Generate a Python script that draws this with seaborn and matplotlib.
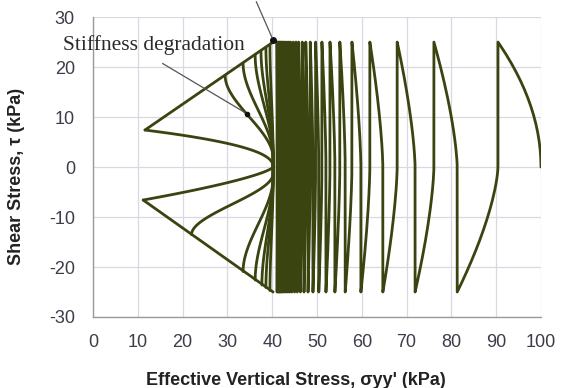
import numpy as np
import pandas as pd
import matplotlib
matplotlib.use("Agg")
import matplotlib.pyplot as plt
import seaborn as sns

# stress path peaks (sigma_yy' in kPa), alternating +25 / -25 kPa shear
peak_sigma = [100, 90.4, 81.3, 76.1, 71.9, 67.9, 64.7, 61.8, 59.8, 57.8, 56.3,
              55.1, 54.0, 52.9, 52.0, 51.1, 50.4, 49.7, 49.1, 48.5, 48.0, 47.5,
              47.1, 46.7, 46.3, 45.9, 45.6, 45.3, 45.0, 44.7, 44.4, 44.1, 43.9,
              43.7, 43.5, 43.3, 43.1, 42.9, 42.7, 42.6, 42.4, 42.3, 42.1, 42.0,
              41.9, 41.8, 41.7, 41.6, 41.5, 41.4, 41.3, 41.2, 41.1, 41.0]
peak_tau = [0] + [25 if i % 2 == 0 else -25 for i in range(len(peak_sigma) - 1)]

# butterfly loops: where each branch meets the failure envelope
hub_sigma = 40.2
upper_sigma = [11.6, 29.5, 33.5, 36.2, 37.5, 38.6, 39.5]
upper_tau = [7.4, 18.3, 20.8, 22.4, 23.2, 23.9, 24.4]
lower_sigma = [11.2, 22.0, 33.5, 36.2, 37.7, 38.6, 39.5]
lower_tau = [-6.6, -13.5, -20.9, -22.6, -23.6, -24.1, -24.7]
env_top = [(11.6, 7.4), (40.2, 25.0)]
env_bot = [(11.2, -6.6), (40.2, -25.0)]

line_col = "#394410"

rows = []
# initial loading
for u in np.linspace(0, 1, 30):
    rows.append((0, peak_sigma[0] - (peak_sigma[0] - peak_sigma[1]) * u ** 2, 25 * u))
# cyclic half cycles: near-vertical unloading, then curved reloading
for i in range(1, len(peak_sigma) - 1):
    xa, xb = peak_sigma[i], peak_sigma[i + 1]
    s = np.sign(peak_tau[i])
    for tau in np.linspace(peak_tau[i], peak_tau[i + 1], 50):
        if np.sign(tau) == s:
            x = xa
        else:
            x = xa - (xa - xb) * (abs(tau) / 25) ** 1.5
        rows.append((0, x, tau))

seg = 1
for xs, ts in [(upper_sigma, upper_tau), (lower_sigma, lower_tau)]:
    for k, (xe, te) in enumerate(zip(xs, ts)):
        for v in np.linspace(1, 0, 50):
            if k == 0:
                h = v ** (2.3 if te > 0 else 1.4)
            else:
                w = np.clip((v - 0.1) / 0.9, 0, 1)
                h = 3 * w ** 2 - 2 * w ** 3
            rows.append((seg, hub_sigma - (hub_sigma - xe) * h, te * v))
        seg += 1
for env in (env_top, env_bot):
    for x, y in env:
        rows.append((seg, x, y))
    seg += 1

df = pd.DataFrame(rows, columns=["seg", "sigma", "tau"])

sns.set_theme(style="whitegrid")
plt.rcParams["font.family"] = ["Liberation Sans Narrow", "Liberation Sans", "DejaVu Sans"]
plt.rcParams["axes.unicode_minus"] = False

fig = plt.figure(figsize=(5.66, 3.88), dpi=100)
ax = fig.add_axes([0.1643, 0.183, 0.7915, 0.773])
ax.set_facecolor("white")

sns.lineplot(data=df, x="sigma", y="tau", units="seg", estimator=None, sort=False,
             color=line_col, lw=2.0, ax=ax, legend=False)

ax.set_xlim(0, 100)
ax.set_ylim(-30, 30)
ax.set_xticks(range(0, 101, 10))
ax.set_yticks(range(-30, 31, 10))
ax.grid(True, color="#d8d8e4", lw=0.9)
for side in ["top", "right"]:
    ax.spines[side].set_visible(False)
for side in ["left", "bottom"]:
    ax.spines[side].set_color("#9a9a9a")
    ax.spines[side].set_linewidth(1.0)
ax.tick_params(axis="y", length=8, color="#9a9a9a", pad=5, labelsize=13, labelcolor="#3c3c4a")
ax.tick_params(axis="x", length=0, pad=12, labelsize=13, labelcolor="#3c3c4a")

ax.set_xlabel("Effective Vertical Stress, σyy' (kPa)", fontsize=13, fontweight="bold",
              color="#222222")
ax.set_ylabel("Shear Stress, τ (kPa)", fontsize=13, fontweight="bold", color="#222222",
              family=["Liberation Sans", "DejaVu Sans"])
ax.xaxis.set_label_coords(0.453, -0.183)
ax.yaxis.set_label_coords(-0.152, 0.467)

# annotations
ax.text(13.6, 24.4, "Stiffness degradation", ha="center", va="center", fontsize=15.5,
        family=["Liberation Serif", "DejaVu Serif"], color="#2a2a2a")
ax.annotate("", xy=(34.3, 10.7), xytext=(15.0, 21.0),
            arrowprops=dict(arrowstyle="-", color="#555555", lw=0.9))
ax.plot([34.3], [10.7], "o", color="#111111", ms=3)
ax.annotate("", xy=(40.2, 25.4), xytext=(36.2, 33.6), annotation_clip=False,
            arrowprops=dict(arrowstyle="-", color="#555555", lw=0.9))
ax.plot([40.2], [25.4], "o", color="#111111", ms=4, clip_on=False)

fig.savefig("out.png", dpi=100)
